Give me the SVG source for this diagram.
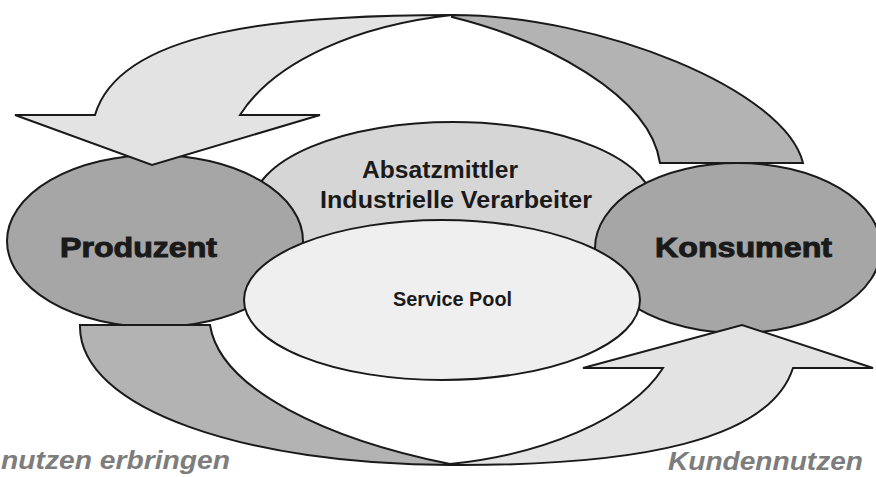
<svg xmlns="http://www.w3.org/2000/svg" width="876" height="477" viewBox="0 0 876 477">
<style>
.shape{stroke:#1a1a1a;stroke-width:2;stroke-linejoin:miter}
.actor{fill:#a6a6a6}
.mid{fill:#d6d6d6}
.pool{fill:#efefef}
.band{fill:#b3b3b3}
.light{fill:#e3e3e3}
.big{font-family:"Liberation Sans",Arial,sans-serif;font-weight:bold;font-size:28px;fill:#1a1a1a;stroke:#1a1a1a;stroke-width:1}
.lbl{font-family:"Liberation Sans",Arial,sans-serif;font-weight:bold;font-size:23px;fill:#1a1a1a}
.pl{font-family:"Liberation Sans",Arial,sans-serif;font-weight:bold;font-size:21px;fill:#1a1a1a}
.note{font-family:"Liberation Sans",Arial,sans-serif;font-weight:bold;font-style:italic;font-size:25px;fill:#7d7d7d}
</style>
<rect width="876" height="477" fill="#ffffff"/>
<g id="absatzmittler">
<ellipse class="shape mid" cx="453" cy="207" rx="201" ry="85"/>
</g>
<g id="produzent">
<ellipse class="shape actor" cx="155" cy="241" rx="148" ry="86"/>
<text class="big" x="60" y="257" textLength="157" lengthAdjust="spacingAndGlyphs">Produzent</text>
</g>
<g id="konsument">
<ellipse class="shape actor" cx="738" cy="248" rx="143" ry="85"/>
<text class="big" x="655" y="257" textLength="177" lengthAdjust="spacingAndGlyphs">Konsument</text>
</g>
<g id="absatzmittler-label">
<text class="lbl" x="362" y="178" textLength="156" lengthAdjust="spacingAndGlyphs">Absatzmittler</text>
<text class="lbl" x="320" y="208" textLength="272" lengthAdjust="spacingAndGlyphs">Industrielle Verarbeiter</text>
</g>
<g id="service-pool">
<ellipse class="shape pool" cx="442" cy="300" rx="198" ry="80"/>
<text class="pl" x="393" y="306" textLength="119" lengthAdjust="spacingAndGlyphs">Service Pool</text>
</g>
<g id="connectors">
<path class="shape light" d="M15,115 L95,115 C120,30 280,15 452,15 C360,25 275,60 240,115 L320,115 L152,165 Z"/>
<path class="shape band" d="M452,15 C600,15 785,90 803,163 L660,163 C650,95 545,40 452,17 Z"/>
<path class="shape band" d="M80,325 L210,325 C220,390 330,440 450,464 L450,465 C250,465 78,410 80,325 Z"/>
<path class="shape light" d="M450,465 C640,466 770,440 793,368 L873,368 L742,325 L583,368 L663,368 C630,420 540,455 450,464 Z"/>
</g>
<g id="notes">
<text class="note" x="1" y="469" textLength="229" lengthAdjust="spacingAndGlyphs">nutzen erbringen</text>
<text class="note" x="668" y="470" textLength="195" lengthAdjust="spacingAndGlyphs">Kundennutzen</text>
</g>
</svg>
